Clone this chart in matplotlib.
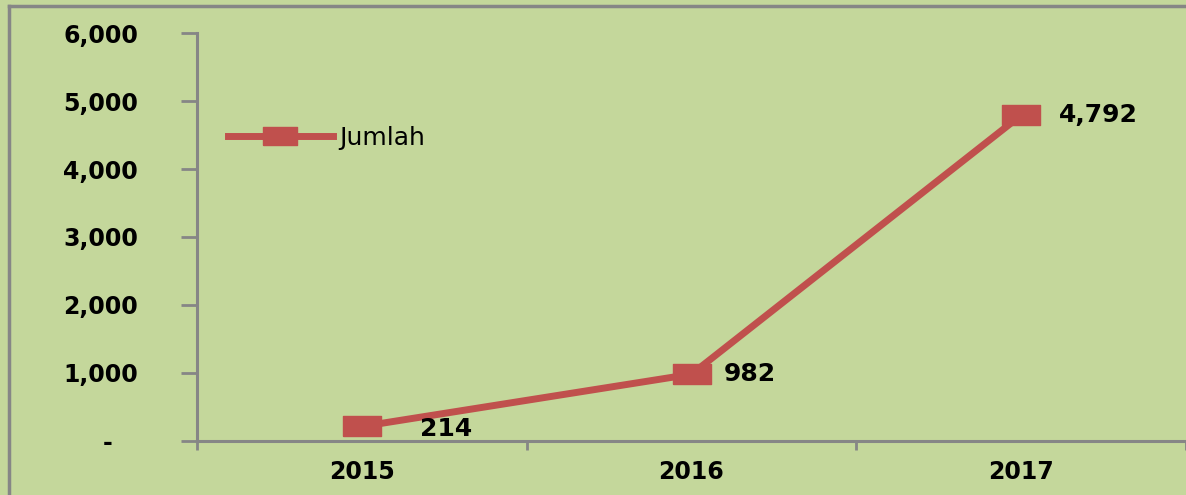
import matplotlib.pyplot as plt
from matplotlib.lines import Line2D

# data
years = ['2015', '2016', '2017']
jumlah = [214, 982, 4792]
y_ticks = [0, 1000, 2000, 3000, 4000, 5000, 6000]
y_labels = ['-   ', '1,000', '2,000', '3,000', '4,000', '5,000', '6,000']
value_labels = ['214', '982', '4,792']

BG = '#c4d79b'
RED = '#c0504d'
GRAY = '#868686'

W, H = 1186, 495
fig = plt.figure(figsize=(W / 100, H / 100), dpi=100, facecolor=BG)

# border on left and top (chart is cropped on the right/bottom)
fig.add_artist(Line2D([9 / W, 9 / W], [0, 1 - 6 / H], transform=fig.transFigure, color=GRAY, lw=2.5))
fig.add_artist(Line2D([9 / W, 1], [1 - 6 / H, 1 - 6 / H], transform=fig.transFigure, color=GRAY, lw=2.5))

ax = fig.add_axes([197 / W, 1 - 441 / H, (W - 197) / W, 408 / H])
ax.set_facecolor('none')

# rectangular marker like the stretched Excel square
rect = [(-1, -0.52), (1, -0.52), (1, 0.52), (-1, 0.52), (-1, -0.52)]
x = list(range(len(years)))
ax.plot(x, jumlah, color=RED, lw=5, marker=rect, markersize=28,
        markerfacecolor=RED, markeredgecolor=RED, label='Jumlah', zorder=3)

offsets = [(42, -2), (23, 0), (27, 0)]
for xi, yi, lab, off in zip(x, jumlah, value_labels, offsets):
    ax.annotate(lab, (xi, yi), xytext=off, textcoords='offset points',
                ha='left', va='center', fontsize=18, fontweight='bold')

ax.set_ylim(0, 6000)
ax.set_xlim(-0.5, 2.46)
ax.set_yticks(y_ticks)
ax.set_yticklabels(y_labels, fontsize=17, fontweight='bold')
ax.set_xticks(x)
ax.set_xticklabels(years, fontsize=17, fontweight='bold')
ax.set_xticks([-0.5, 0.5, 1.5, 2.5], minor=True)

ax.tick_params(axis='y', direction='out', length=11.5, width=2, color=GRAY, pad=31)
ax.tick_params(axis='x', which='major', length=0, pad=14)
ax.tick_params(axis='x', which='minor', direction='out', length=6.5, width=2, color=GRAY)

for s in ['top', 'right']:
    ax.spines[s].set_visible(False)
for s in ['left', 'bottom']:
    ax.spines[s].set_color(GRAY)
    ax.spines[s].set_linewidth(2.2)

leg = ax.legend(loc='center left', bbox_to_anchor=(0.031, 0.743), frameon=False,
                fontsize=18, handlelength=4.2, handletextpad=0.25,
                borderpad=0, borderaxespad=0, markerscale=0.85)

fig.savefig('out.png', dpi=100, facecolor=BG)
